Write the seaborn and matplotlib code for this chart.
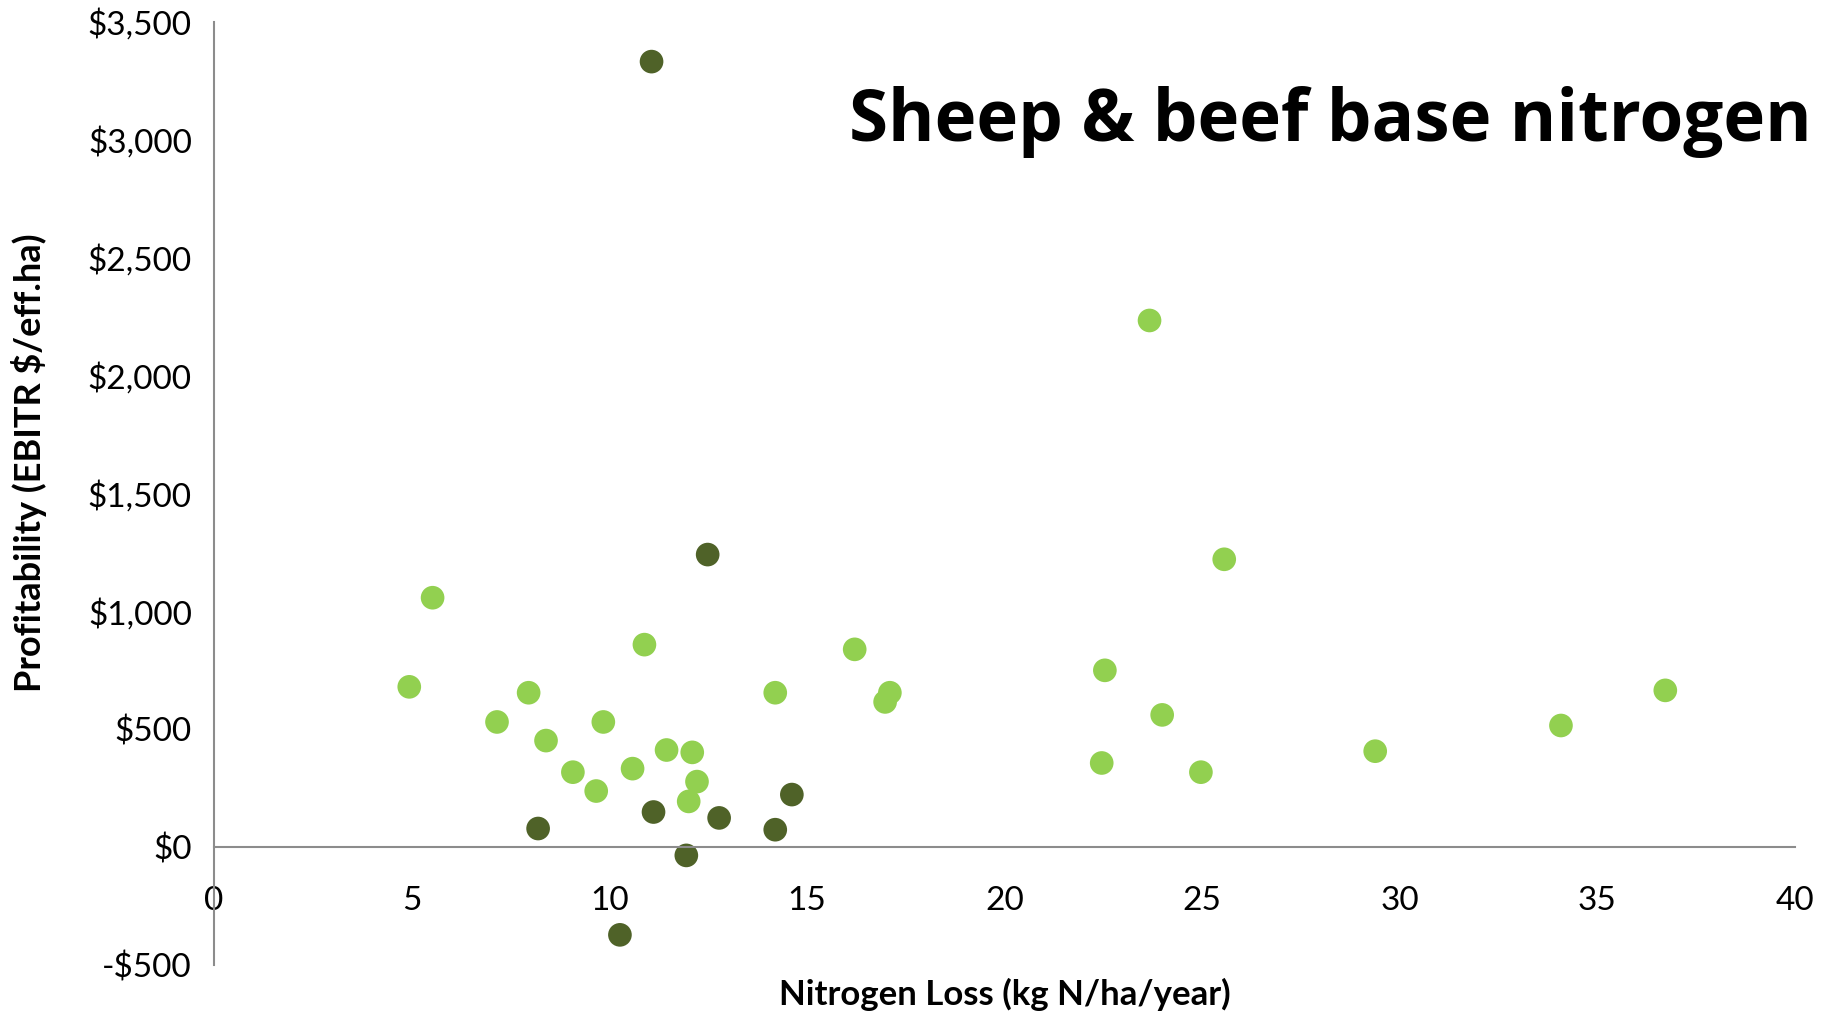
import numpy as np
import pandas as pd
import seaborn as sns
import matplotlib.pyplot as plt
from matplotlib.ticker import FuncFormatter

# Data
light_n = [4.94, 5.53, 7.16, 7.96, 8.40, 9.08, 9.67, 9.85, 10.59, 10.89, 11.45, 12.01,
           12.10, 12.22, 14.20, 16.21, 16.98, 17.10, 22.46, 22.54, 23.67, 23.99, 24.97,
           25.56, 29.38, 34.08, 36.72]
light_profit = [680, 1058, 531, 655, 452, 318, 238, 531, 333, 859, 412, 194,
                402, 278, 655, 839, 616, 655, 357, 750, 2234, 561, 318,
                1221, 407, 516, 665]

dark_n = [11.07, 12.49, 8.20, 11.12, 12.78, 14.20, 14.62, 11.95, 10.27]
dark_profit = [3332, 1241, 79, 149, 124, 74, 223, -35, -372]

x_ticks = [0, 5, 10, 15, 20, 25, 30, 35, 40]
y_ticks = [-500, 0, 500, 1000, 1500, 2000, 2500, 3000, 3500]

df = pd.DataFrame({
    "n_loss": light_n + dark_n,
    "profit": light_profit + dark_profit,
    "group": ["light"] * len(light_n) + ["dark"] * len(dark_n),
})

sns.set_style("white")
plt.rcParams["font.family"] = ["Lato", "DejaVu Sans"]
plt.rcParams["text.color"] = "black"

fig = plt.figure(figsize=(18.34, 10.14), dpi=100)
ax = fig.add_axes([0.1167, 0.0483, 0.862, 0.930])

sns.scatterplot(data=df, x="n_loss", y="profit", hue="group",
                palette={"light": "#92D050", "dark": "#4F6228"},
                s=290, linewidth=0, legend=False, ax=ax)

ax.set_xlim(0, 40)
ax.set_ylim(-500, 3500)
ax.set_xticks(x_ticks)
ax.set_yticks(y_ticks)
ax.yaxis.set_major_formatter(FuncFormatter(
    lambda v, p: f"-${abs(v):,.0f}" if v < 0 else f"${v:,.0f}"))

for side in ["top", "right"]:
    ax.spines[side].set_visible(False)
ax.spines["bottom"].set_position(("data", 0))
for side in ["bottom", "left"]:
    ax.spines[side].set_color("#8c8c8c")
    ax.spines[side].set_linewidth(1.5)

ax.tick_params(axis="x", direction="in", length=10, width=1.5, color="#8c8c8c",
               labelsize=24, pad=28, labelcolor="black")
ax.tick_params(axis="y", direction="out", length=10, width=1.5, color="#8c8c8c",
               labelsize=24, pad=6, labelcolor="black")

ax.set_xlabel("")
ax.set_ylabel("")
fig.text(0.548, 0.019, "Nitrogen Loss (kg N/ha/year)", ha="center", va="center",
         fontsize=25, fontweight="bold", color="black")
fig.text(0.016, 0.544, "Profitability (EBITR $/eff.ha)", ha="center", va="center",
         rotation=90, fontsize=26, fontweight="bold", color="black")
fig.text(0.988, 0.880, "Sheep & beef base nitrogen", ha="right", va="center",
         fontsize=51, fontweight="bold", color="black",
         family=["Open Sans", "DejaVu Sans"])

fig.savefig("out.png", dpi=100)
